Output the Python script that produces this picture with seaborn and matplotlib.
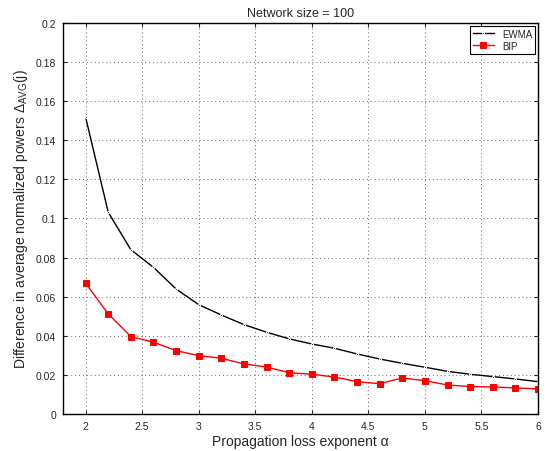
import numpy as np
import pandas as pd
import seaborn as sns
import matplotlib
matplotlib.use("Agg")
import matplotlib.pyplot as plt

alpha = [2.0, 2.2, 2.4, 2.6, 2.8, 3.0, 3.2, 3.4, 3.6, 3.8, 4.0,
         4.2, 4.4, 4.6, 4.8, 5.0, 5.2, 5.4, 5.6, 5.8, 6.0]
ewma = [0.1518, 0.1032, 0.0840, 0.0750, 0.0639, 0.0559, 0.0506, 0.0457, 0.0418, 0.0384, 0.0358,
        0.0336, 0.0307, 0.0281, 0.0259, 0.0239, 0.0218, 0.0203, 0.0191, 0.0179, 0.0165]
bip = [0.0669, 0.0512, 0.0396, 0.0367, 0.0324, 0.0298, 0.0285, 0.0256, 0.0240, 0.0211, 0.0203,
       0.0189, 0.0165, 0.0155, 0.0184, 0.0170, 0.0148, 0.0140, 0.0138, 0.0133, 0.0128]

sns.set_style("ticks")
plt.rcParams['font.family'] = ['Liberation Sans', 'DejaVu Sans']
plt.rcParams['mathtext.fontset'] = 'custom'
plt.rcParams['mathtext.rm'] = 'Liberation Sans'
plt.rcParams['mathtext.it'] = 'Liberation Sans:italic'
plt.rcParams['mathtext.sf'] = 'Liberation Sans'

df = pd.DataFrame({"alpha": alpha * 2,
                   "val": ewma + bip,
                   "method": ["EWMA"] * len(alpha) + ["BIP"] * len(alpha)})

fig = plt.figure(figsize=(5.51, 4.52), dpi=100)
ax = fig.add_axes([0.1143, 0.082, 0.8621, 0.865])

sns.lineplot(data=df[df.method == "EWMA"], x="alpha", y="val", color="black",
             marker=".", markersize=3, linewidth=1, label="EWMA", ax=ax)
sns.lineplot(data=df[df.method == "BIP"], x="alpha", y="val", color="red",
             marker="s", markersize=5, markeredgecolor="red", linewidth=1, label="BIP", ax=ax)

ax.set_xlim(1.8, 6)
ax.set_ylim(0, 0.2)
ax.set_xticks([2, 2.5, 3, 3.5, 4, 4.5, 5, 5.5, 6])
ax.set_xticklabels(["2", "2.5", "3", "3.5", "4", "4.5", "5", "5.5", "6"])
ax.set_yticks(np.arange(0, 0.201, 0.02))
ax.set_yticklabels(["0", "0.02", "0.04", "0.06", "0.08", "0.1", "0.12", "0.14", "0.16", "0.18", "0.2"])
ax.tick_params(direction="in", top=True, right=True, labelsize=7.5, length=3, width=0.8, pad=5)
ax.grid(True, linestyle=(0, (1, 3)), color="#666666", linewidth=0.7)
for s in ax.spines.values():
    s.set_visible(True)
    s.set_linewidth(1.0)
    s.set_color("black")

ax.set_xlabel("Propagation loss exponent α", fontsize=10, labelpad=2)
ax.set_ylabel(r"Difference in average normalized powers $\Delta_{\mathrm{AVG}}\mathrm{(j)}$", fontsize=10, labelpad=4)
ax.set_title("Network size = 100", fontsize=9, pad=5)

leg = ax.legend(loc="upper right", fontsize=7, frameon=True, fancybox=False,
                edgecolor="black", borderaxespad=0.3, handlelength=2.2,
                borderpad=0.3, labelspacing=0.2)
leg.get_frame().set_linewidth(0.8)
leg.get_frame().set_alpha(1)

fig.savefig("out.png", dpi=100)
